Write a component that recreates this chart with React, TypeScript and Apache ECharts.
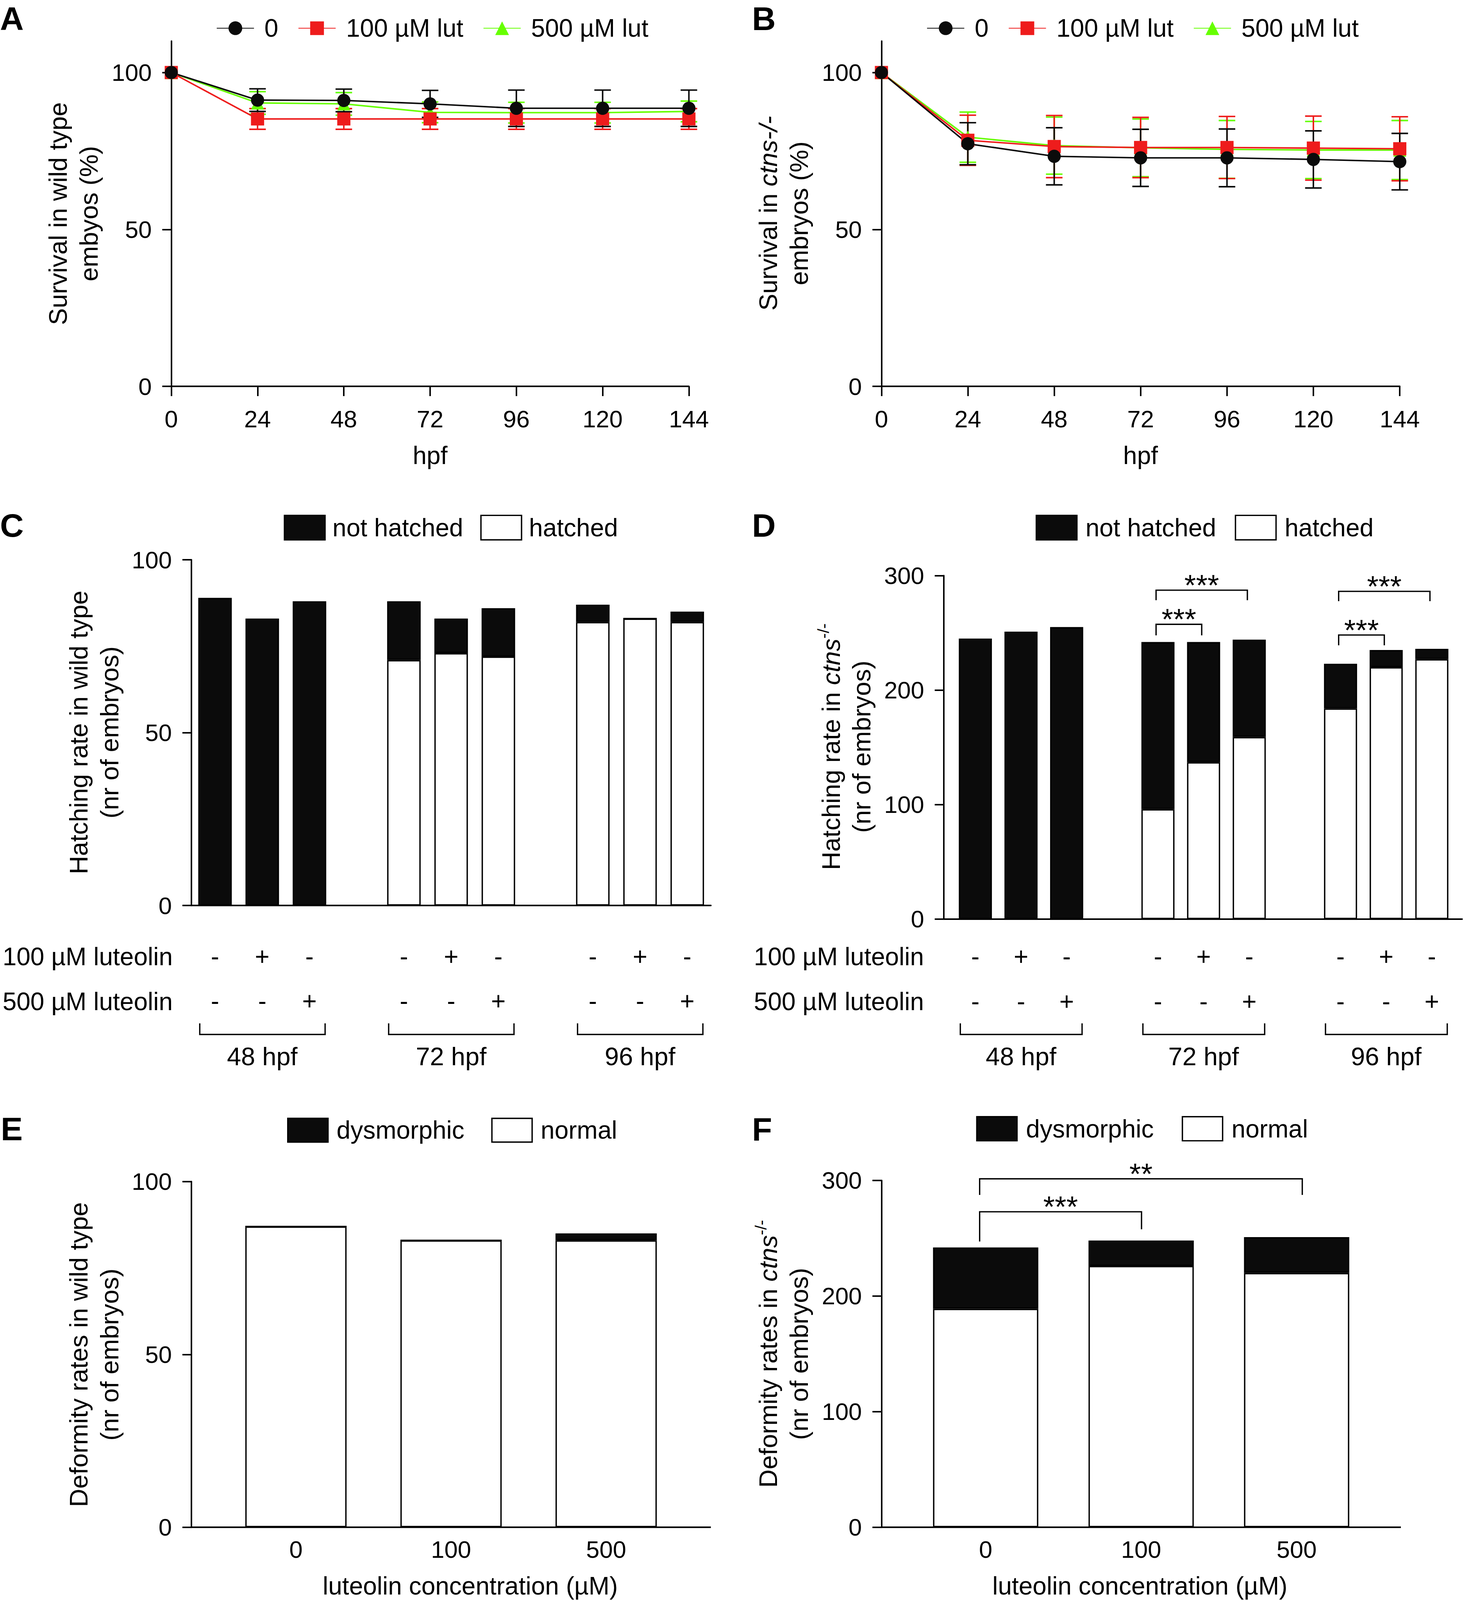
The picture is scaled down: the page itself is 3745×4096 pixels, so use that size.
import React, { useEffect, useRef } from 'react';
import * as echarts from 'echarts';

const S = 0.963;
const W = 3745;
const H = 4096;
const FONT = '"Liberation Sans", Arial, Helvetica, sans-serif';
const p = (v: number) => v * S;

// ---------------- data ----------------
const hpf = [0, 24, 48, 72, 96, 120, 144];
const lineNames = ['0', '100 µM lut', '500 µM lut'];

const survWt0 = [100, 91.2, 91.1, 90.0, 88.6, 88.6, 88.6];
const errWt0 = [0, 3.6, 3.6, 4.3, 5.8, 5.8, 5.8];
const survWt100 = [100, 85.2, 85.2, 85.2, 85.2, 85.2, 85.2];
const errWt100 = [0, 3.3, 3.3, 3.3, 3.3, 3.3, 3.3];
const survWt500 = [100, 90.3, 90.0, 87.3, 87.2, 87.2, 87.6];
const errWt500 = [0, 3.6, 3.6, 3.3, 3.3, 3.3, 3.3];

const survCt0 = [100, 77.3, 73.3, 72.8, 72.8, 72.3, 71.6];
const errCt0 = [0, 6.7, 9.1, 9.1, 9.2, 9.1, 9.0];
const survCt100 = [100, 78.4, 76.4, 76.1, 76.1, 75.9, 75.7];
const errCt100 = [0, 8.0, 9.9, 9.6, 9.9, 10.2, 10.2];
const survCt500 = [100, 79.4, 76.7, 76.0, 75.5, 75.3, 75.3];
const errCt500 = [0, 8.0, 9.1, 9.2, 9.2, 9.1, 9.4];

const hatchGroups = ['48 hpf', '72 hpf', '96 hpf'];
const lut100Row = ['-', '+', '-'];
const lut500Row = ['-', '-', '+'];
const hatchedWt = [0, 0, 0, 71, 73, 72, 82, 83, 82];
const notHatchedWt = [89, 83, 88, 17, 10, 14, 5, 0, 3];
const hatchedCt = [0, 0, 0, 96, 137, 159, 184, 220, 227];
const notHatchedCt = [245, 251, 255, 146, 105, 85, 39, 15, 9];

const concentrations = ['0', '100', '500'];
const normalWt = [87, 83, 83];
const dysWt = [0, 0, 2];
const normalCt = [189, 226, 220];
const dysCt = [53, 22, 31];

const sigHatchCt = [
  { group: 1, from: 0, to: 2, top: 287.2, ends: [278.5, 278.5], label: '***' },
  { group: 1, from: 0, to: 1, top: 257.4, ends: [247.8, 247.8], label: '***' },
  { group: 2, from: 0, to: 2, top: 286.2, ends: [277.6, 277.6], label: '***' },
  { group: 2, from: 0, to: 1, top: 248.1, ends: [239.1, 239.1], label: '***' },
];
const sigDeformCt = [
  { from: 0, to: 2, top: 301.4, ends: [287.5, 287.5], label: '**' },
  { from: 0, to: 1, top: 272.9, ends: [247.2, 257.7], label: '***' },
];

// ---------------- layout (reference px) ----------------
const GRID = [
  { l: 455.3, t: 109.3, r: 1831.2, b: 1027 },
  { l: 2343.0, t: 109.3, r: 3720.8, b: 1027 },
  { l: 508.8, t: 1488.1, r: 1889.6, b: 2407.3 },
  { l: 2532.0, t: 1530, r: 3866.7, b: 2443.4 },
  { l: 580.5, t: 3141, r: 1817.4, b: 4060 },
  { l: 2413.4, t: 3138, r: 3653.3, b: 4060 },
];
const YAXIS_X = [455.3, 2343.0, 508.8, 2508.6, 508.8, 2343.0];
const XLINE_R = [1831.2, 3720.8, 1889.6, 3888, 1889.6, 3723.8];

const BLACK = '#0b0b0b';
const RED = '#ee1c1c';
const GREEN = '#66ff00';
const LW = p(4);
const FS = 64;

// slots for hatching charts (groups with a gap between them)
const slots: ({ g: number; k: number } | null)[] = [];
hatchGroups.forEach((_, g) => {
  if (g) slots.push(null);
  lut100Row.forEach((__, k) => slots.push({ g, k }));
});
const slotNames = slots.map((s, i) => (s ? `${hatchGroups[s.g]} #${s.k + 1}` : `gap ${i}`));
const toSlots = (vals: number[]) => slots.map((s) => (s ? vals[s.g * 3 + s.k] : '-'));
const slotIndex = (g: number, k: number) => g * 4 + k;

const tickLabel = { color: '#000', fontSize: 61.5, fontFamily: FONT };
const axisLineSt = { show: true, onZero: false, lineStyle: { color: '#000', width: LW } };

function lineSeries(gi: number, name: string, vals: number[], color: string, symbol: string) {
  return {
    type: 'line', name, xAxisIndex: gi, yAxisIndex: gi,
    data: hpf.map((h, i) => [h, vals[i]]),
    symbol, symbolSize: p(35),
    itemStyle: { color }, lineStyle: { color, width: LW }, z: 3,
  };
}
function errSeries(gi: number, vals: number[], errs: number[], color: string) {
  return {
    type: 'custom', xAxisIndex: gi, yAxisIndex: gi, z: 3, silent: true,
    data: hpf.map((h, i) => [h, vals[i], errs[i]]),
    encode: { x: 0, y: 1 },
    renderItem: (params: any, api: any) => {
      const x = api.value(0), y = api.value(1), e = api.value(2);
      if (!e) return { type: 'group', children: [] };
      const hi = api.coord([x, y + e]);
      const lo = api.coord([x, y - e]);
      const hw = p(22);
      const st = { stroke: color, lineWidth: LW };
      return {
        type: 'group',
        children: [
          { type: 'line', shape: { x1: hi[0], y1: hi[1], x2: lo[0], y2: lo[1] }, style: st },
          { type: 'line', shape: { x1: hi[0] - hw, y1: hi[1], x2: hi[0] + hw, y2: hi[1] }, style: st },
          { type: 'line', shape: { x1: lo[0] - hw, y1: lo[1], x2: lo[0] + hw, y2: lo[1] }, style: st },
        ],
      };
    },
  };
}
function barSeries(gi: number, name: string, data: any[], fill: string, width: string) {
  return {
    type: 'bar', name, xAxisIndex: gi, yAxisIndex: gi, stack: 'st' + gi, data,
    barWidth: width,
    itemStyle: { color: fill, borderColor: '#000', borderWidth: p(3.6) },
    z: 2,
  };
}

function lineLegend(left: number) {
  return {
    data: lineNames, left: p(left), top: p(75) - 32, padding: 0,
    itemWidth: p(99), itemHeight: 44, itemGap: p(53.5) - 1, selectedMode: false,
    textStyle: { fontSize: FS, fontFamily: FONT, color: '#000', padding: [0, 0, 0, p(27.7) - 5] },
  };
}
function boxLegend(names: string[], left: number, cy: number, w: number, h: number, gap: number, pad: number) {
  return {
    data: [
      { name: names[0], itemStyle: { color: BLACK, borderColor: '#000', borderWidth: p(3.6) } },
      { name: names[1], itemStyle: { color: '#fff', borderColor: '#000', borderWidth: p(3.6) } },
    ],
    icon: 'rect', left: p(left), top: p(cy) - 32, padding: 0,
    itemWidth: p(w), itemHeight: p(h), itemGap: p(gap), selectedMode: false,
    textStyle: { fontSize: FS, fontFamily: FONT, color: '#000', padding: [0, 0, 0, p(pad) - 5] },
  };
}

const xAxes: any[] = [0, 1].map((gi) => ({
  type: 'value', gridIndex: gi, min: 0, max: 144, interval: 24,
  axisLine: axisLineSt,
  axisTick: { show: true, inside: false, length: p(26), lineStyle: { color: '#000', width: LW } },
  axisLabel: { ...tickLabel, margin: 52 },
  splitLine: { show: false },
}));
[2, 3].forEach((gi) => {
  xAxes.push({
    type: 'category', gridIndex: gi, data: slotNames,
    axisLine: { ...axisLineSt, show: gi === 2 },
    axisTick: { show: false },
    axisLabel: {
      interval: 0, color: '#000', fontSize: FS, fontFamily: FONT,
      lineHeight: p(119), margin: gi === 2 ? 73 : 39,
      formatter: (_v: string, idx: number) => {
        const s = slots[idx];
        return s ? `${lut100Row[s.k]}\n${lut500Row[s.k]}` : '';
      },
    },
    splitLine: { show: false },
  });
});
[4, 5].forEach((gi) => {
  xAxes.push({
    type: 'category', gridIndex: gi, data: concentrations,
    axisLine: { ...axisLineSt, show: false },
    axisTick: { show: false },
    axisLabel: { ...tickLabel, margin: 26, interval: 0 },
    splitLine: { show: false },
  });
});

const yMax = [110, 110, 100, 300, 100, 300];
const yInt = [50, 50, 50, 100, 50, 100];
const yAxes = GRID.map((g, gi) => {
  const ax: any = {
    type: 'value', gridIndex: gi, min: 0, max: yMax[gi], interval: yInt[gi],
    offset: p(g.l - YAXIS_X[gi]),
    axisLine: axisLineSt,
    axisTick: { show: true, inside: false, length: p(24), lineStyle: { color: '#000', width: LW } },
    axisLabel: { ...tickLabel, margin: 50 },
    splitLine: { show: false },
  };
  if (gi < 2) {
    ax.axisTick.customValues = [0, 50, 100];
    ax.axisLabel.customValues = [0, 50, 100];
  }
  return ax;
});

const option: any = {
  animation: false,
  backgroundColor: '#fff',
  textStyle: { fontFamily: FONT },
  grid: GRID.map((g) => ({
    left: p(g.l), top: p(g.t), width: p(g.r - g.l), height: p(g.b - g.t),
    containLabel: false, outerBoundsMode: 'none',
  })),
  xAxis: xAxes,
  yAxis: yAxes,
  legend: [
    lineLegend(575.1),
    lineLegend(2463.2),
    boxLegend(['not hatched', 'hatched'], 754.3, 1401.5, 107.9, 65, 45.5, 19.8),
    boxLegend(['not hatched', 'hatched'], 2752.9, 1401.5, 107.9, 65, 49.5, 22.8),
    boxLegend(['dysmorphic', 'normal'], 763.2, 3004.5, 106.9, 63, 71.3, 22.8),
    boxLegend(['dysmorphic', 'normal'], 2594.7, 3000, 106.9, 64, 74.2, 23.8),
  ],
  series: [
    errSeries(0, survWt500, errWt500, GREEN),
    lineSeries(0, lineNames[2], survWt500, GREEN, 'triangle'),
    errSeries(0, survWt100, errWt100, RED),
    lineSeries(0, lineNames[1], survWt100, RED, 'rect'),
    errSeries(0, survWt0, errWt0, BLACK),
    lineSeries(0, lineNames[0], survWt0, BLACK, 'circle'),
    errSeries(1, survCt500, errCt500, GREEN),
    lineSeries(1, lineNames[2], survCt500, GREEN, 'triangle'),
    errSeries(1, survCt100, errCt100, RED),
    lineSeries(1, lineNames[1], survCt100, RED, 'rect'),
    errSeries(1, survCt0, errCt0, BLACK),
    lineSeries(1, lineNames[0], survCt0, BLACK, 'circle'),
    barSeries(2, 'hatched', toSlots(hatchedWt), '#fff', '71%'),
    barSeries(2, 'not hatched', toSlots(notHatchedWt), BLACK, '71%'),
    barSeries(3, 'hatched', toSlots(hatchedCt), '#fff', '72.5%'),
    barSeries(3, 'not hatched', toSlots(notHatchedCt), BLACK, '72.5%'),
    barSeries(4, 'normal', normalWt, '#fff', '65.3%'),
    barSeries(4, 'dysmorphic', dysWt, BLACK, '65.3%'),
    barSeries(5, 'normal', normalCt, '#fff', '67.7%'),
    barSeries(5, 'dysmorphic', dysCt, BLACK, '67.7%'),
  ],
};

function buildGraphics(chart: any) {
  const els: any[] = [];
  const px = (gi: number, x: number, y: number) => chart.convertToPixel({ gridIndex: gi }, [x, y]) as number[];
  const text = (x: number, y: number, str: string, o: any = {}) => {
    const align = o.align || 'center';
    els.push({
      type: 'text', x, y, rotation: o.rotation || 0, silent: true, z: 10,
      style: {
        text: str, fill: '#000', fontFamily: FONT, fontSize: o.fontSize || FS,
        fontWeight: o.fontWeight || 'normal', fontStyle: 'normal',
        align, textAlign: align, verticalAlign: 'middle', textVerticalAlign: 'middle',
        lineHeight: o.lineHeight, rich: o.rich,
      },
    });
  };
  const line = (x1: number, y1: number, x2: number, y2: number, w = LW) =>
    els.push({ type: 'line', silent: true, z: 10, shape: { x1, y1, x2, y2 }, style: { stroke: '#000', lineWidth: w } });
  const poly = (pts: number[][]) =>
    els.push({ type: 'polyline', silent: true, z: 10, shape: { points: pts }, style: { stroke: '#000', fill: 'none', lineWidth: p(3.5) } });

  // panel letters
  const letters: [string, number, number][] = [
    ['A', 0, 50], ['B', 1999, 50], ['C', 0, 1397], ['D', 1999, 1397], ['E', 2, 3001], ['F', 1999, 3002],
  ];
  letters.forEach(([l, x, y]) => text(p(x), p(y), l, { align: 'left', fontWeight: 'bold', fontSize: 84 }));

  // y titles
  const TFS = 65;
  const rich = {
    i: { fontStyle: 'italic', fontFamily: FONT, fontSize: TFS, lineHeight: p(81.5) },
    sup: { fontFamily: FONT, fontSize: 41, verticalAlign: 'top', lineHeight: 30 },
  };
  const yTitles: [string, number, number][] = [
    ['Survival in wild type\nembyos (%)', 195, 568],
    ['Survival in {i|ctns-/-}\nembryos (%)', 2083, 567],
    ['Hatching rate in wild type\n(nr of embryos)', 250.4, 1947],
    ['Hatching rate in {i|ctns}{sup|-/-}\n(nr of embryos)', 2249.6, 1985],
    ['Deformity rates in wild type\n(nr of embryos)', 250.4, 3601],
    ['Deformity rates in {i|ctns}{sup|-/-}\n(nr of embryos)', 2083, 3599],
  ];
  yTitles.forEach(([t, x, y]) => text(p(x), p(y), t, { rotation: Math.PI / 2, lineHeight: p(81.5), rich, fontSize: TFS }));

  // x titles
  text(p(1143.3), p(1211), 'hpf');
  text(p(3031.7), p(1211), 'hpf');
  text(p(1250), p(4216), 'luteolin concentration (µM)', { fontSize: 64 });
  text(p(3030), p(4216), 'luteolin concentration (µM)', { fontSize: 64 });

  // axis line for grids whose category band is inset from the y axis
  [3, 4, 5].forEach((gi) => {
    const y0 = px(gi, 0, 0)[1];
    line(p(YAXIS_X[gi]), y0, p(XLINE_R[gi]), y0);
  });

  // treatment rows + group brackets
  const rowRight = [459, 2456];
  [2, 3].forEach((gi, j) => {
    text(p(rowRight[j]), p(2543), '100 µM luteolin', { align: 'right' });
    text(p(rowRight[j]), p(2662), '500 µM luteolin', { align: 'right' });
    const band = px(gi, 1, 0)[0] - px(gi, 0, 0)[0];
    const frac = gi === 2 ? 0.71 : 0.725;
    const half = (band * frac) / 2;
    hatchGroups.forEach((g, gIdx) => {
      const xl = px(gi, slotIndex(gIdx, 0), 0)[0] - half + p(4);
      const xr = px(gi, slotIndex(gIdx, 2), 0)[0] + half - p(3);
      const xm = px(gi, slotIndex(gIdx, 1), 0)[0];
      poly([[xl, p(2720.5)], [xl, p(2750)], [xr, p(2750)], [xr, p(2720.5)]]);
      text(xm, p(2808), g, { fontSize: 65 });
    });
  });

  // significance brackets
  const sig = (gi: number, iFrom: number, iTo: number, top: number, ends: number[], label: string, dl = 0, dr = 0) => {
    const a = px(gi, iFrom, top);
    const b = px(gi, iTo, top);
    const aE = px(gi, iFrom, ends[0]);
    const bE = px(gi, iTo, ends[1]);
    const xa = a[0] + p(dl);
    const xb = b[0] + p(dr);
    poly([[xa, aE[1]], [xa, a[1]], [xb, b[1]], [xb, bE[1]]]);
    text((xa + xb) / 2, a[1] - p(14), label, { fontSize: 76 });
  };
  sigHatchCt.forEach((s) => sig(3, slotIndex(s.group, s.from), slotIndex(s.group, s.to), s.top, s.ends, s.label, -5, -5));
  sigDeformCt.forEach((s) => sig(5, s.from, s.to, s.top, s.ends, s.label, -16, s.to === 2 ? 15 : 1));

  return els;
}

export default function App() {
  const ref = useRef<HTMLDivElement>(null);
  useEffect(() => {
    document.body.style.margin = '0';
    const chart = echarts.init(ref.current as HTMLDivElement, null, { renderer: 'svg', width: W, height: H });
    chart.setOption(option);
    chart.setOption({ graphic: { elements: buildGraphics(chart) } });
    return () => chart.dispose();
  }, []);
  return (
    <div
      ref={ref}
      style={{ position: 'absolute', left: 0, top: 0, width: W, height: H, background: '#fff' }}
    />
  );
}
